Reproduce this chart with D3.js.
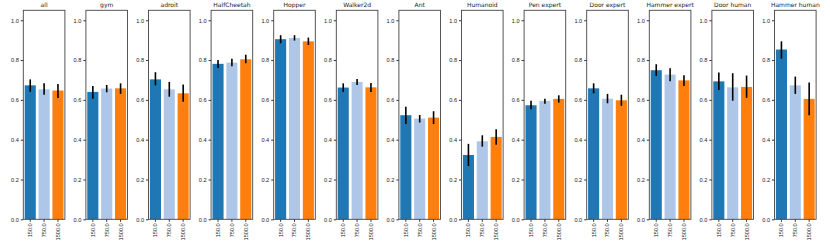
<!DOCTYPE html>
<html>
<head>
<meta charset="utf-8">
<script src="https://d3js.org/d3.v7.min.js"></script>
<style>
  body { margin: 0; background: #fff; }
  svg { font-family: "DejaVu Sans", sans-serif; }
</style>
</head>
<body>
<svg id="chart"></svg>
<script>
var panels = ['all', 'gym', 'adroit', 'HalfCheetah', 'Hopper', 'Walker2d', 'Ant', 'Humanoid',
              'Pen expert', 'Door expert', 'Hammer expert', 'Door human', 'Hammer human'];
var sizes = ['150.0', '750.0', '1500.0'];
var colors = ['#1f77b4', '#aec7e8', '#ff7f0e'];
var yTicks = [0, 0.2, 0.4, 0.6, 0.8, 1.0];

// mean per panel, one number per size
var means = [
  [0.673, 0.653, 0.647], [0.640, 0.657, 0.658], [0.703, 0.653, 0.633],
  [0.781, 0.787, 0.804], [0.905, 0.911, 0.894], [0.662, 0.690, 0.663],
  [0.523, 0.506, 0.511], [0.323, 0.392, 0.414], [0.573, 0.595, 0.605],
  [0.658, 0.606, 0.598], [0.749, 0.727, 0.698], [0.693, 0.663, 0.665],
  [0.853, 0.673, 0.605]
];
var lows = [
  [0.640, 0.626, 0.610], [0.606, 0.638, 0.630], [0.673, 0.616, 0.590],
  [0.760, 0.769, 0.784], [0.884, 0.898, 0.876], [0.640, 0.675, 0.640],
  [0.479, 0.486, 0.479], [0.268, 0.365, 0.375], [0.553, 0.581, 0.586],
  [0.633, 0.583, 0.570], [0.720, 0.693, 0.670], [0.650, 0.596, 0.610],
  [0.807, 0.630, 0.523]
];
var highs = [
  [0.703, 0.683, 0.680], [0.670, 0.675, 0.683], [0.739, 0.690, 0.677],
  [0.800, 0.806, 0.827], [0.925, 0.925, 0.913], [0.683, 0.705, 0.685],
  [0.566, 0.524, 0.543], [0.379, 0.422, 0.452], [0.595, 0.606, 0.623],
  [0.683, 0.630, 0.626], [0.779, 0.759, 0.724], [0.737, 0.734, 0.722],
  [0.894, 0.717, 0.687]
];

var width = 830, height = 245;
var plotTop = 10.3, plotBottom = 219.3;
var firstLeft = 23.3, step = 62.6, panelW = 41.6;

var svg = d3.select('#chart').attr('width', width).attr('height', height);

var y = d3.scaleLinear().domain([0, 1.05]).range([plotBottom, plotTop]);
var x = d3.scaleBand().domain(sizes).range([0, panelW]).paddingInner(0.2).paddingOuter(0.1);

panels.forEach(function(name, i) {
  var g = svg.append('g')
    .attr('transform', 'translate(' + (firstLeft + i * step) + ',0)');

  var rows = sizes.map(function(s, j) {
    return { size: s, mean: means[i][j], lo: lows[i][j], hi: highs[i][j], color: colors[j] };
  });

  g.selectAll('rect.bar')
    .data(rows)
    .enter()
    .append('rect')
    .attr('class', 'bar')
    .attr('x', function(d) { return x(d.size); })
    .attr('y', function(d) { return y(d.mean); })
    .attr('width', x.bandwidth())
    .attr('height', function(d) { return y(0) - y(d.mean); })
    .attr('fill', function(d) { return d.color; });

  g.selectAll('line.err')
    .data(rows)
    .enter()
    .append('line')
    .attr('class', 'err')
    .attr('x1', function(d) { return x(d.size) + x.bandwidth() / 2; })
    .attr('x2', function(d) { return x(d.size) + x.bandwidth() / 2; })
    .attr('y1', function(d) { return y(d.lo); })
    .attr('y2', function(d) { return y(d.hi); })
    .attr('stroke', '#000')
    .attr('stroke-width', 1.6);

  var yAxis = g.append('g')
    .call(d3.axisLeft(y).tickValues(yTicks).tickFormat(d3.format('.1f')).tickSize(2.5).tickPadding(2));
  yAxis.select('.domain').remove();
  yAxis.selectAll('text').style('font-size', '5.6px').attr('fill', '#222');
  yAxis.selectAll('line').attr('stroke', '#333');

  var xAxis = g.append('g')
    .attr('transform', 'translate(0,' + plotBottom + ')')
    .call(d3.axisBottom(x).tickSize(2.5).tickPadding(2));
  xAxis.select('.domain').remove();
  xAxis.selectAll('line').attr('stroke', '#333');
  xAxis.selectAll('text')
    .style('font-size', '5.6px')
    .attr('fill', '#222')
    .attr('transform', 'rotate(-90)')
    .attr('text-anchor', 'end')
    .attr('x', -4)
    .attr('y', 0)
    .attr('dy', '0.35em');

  g.append('rect')
    .attr('x', 0)
    .attr('y', plotTop)
    .attr('width', panelW)
    .attr('height', plotBottom - plotTop)
    .attr('fill', 'none')
    .attr('stroke', '#444')
    .attr('stroke-width', 0.9);

  g.append('text')
    .attr('x', panelW / 2)
    .attr('y', plotTop - 3)
    .attr('text-anchor', 'middle')
    .style('font-size', '6px')
    .attr('fill', '#222')
    .text(name);
});
</script>
</body>
</html>
